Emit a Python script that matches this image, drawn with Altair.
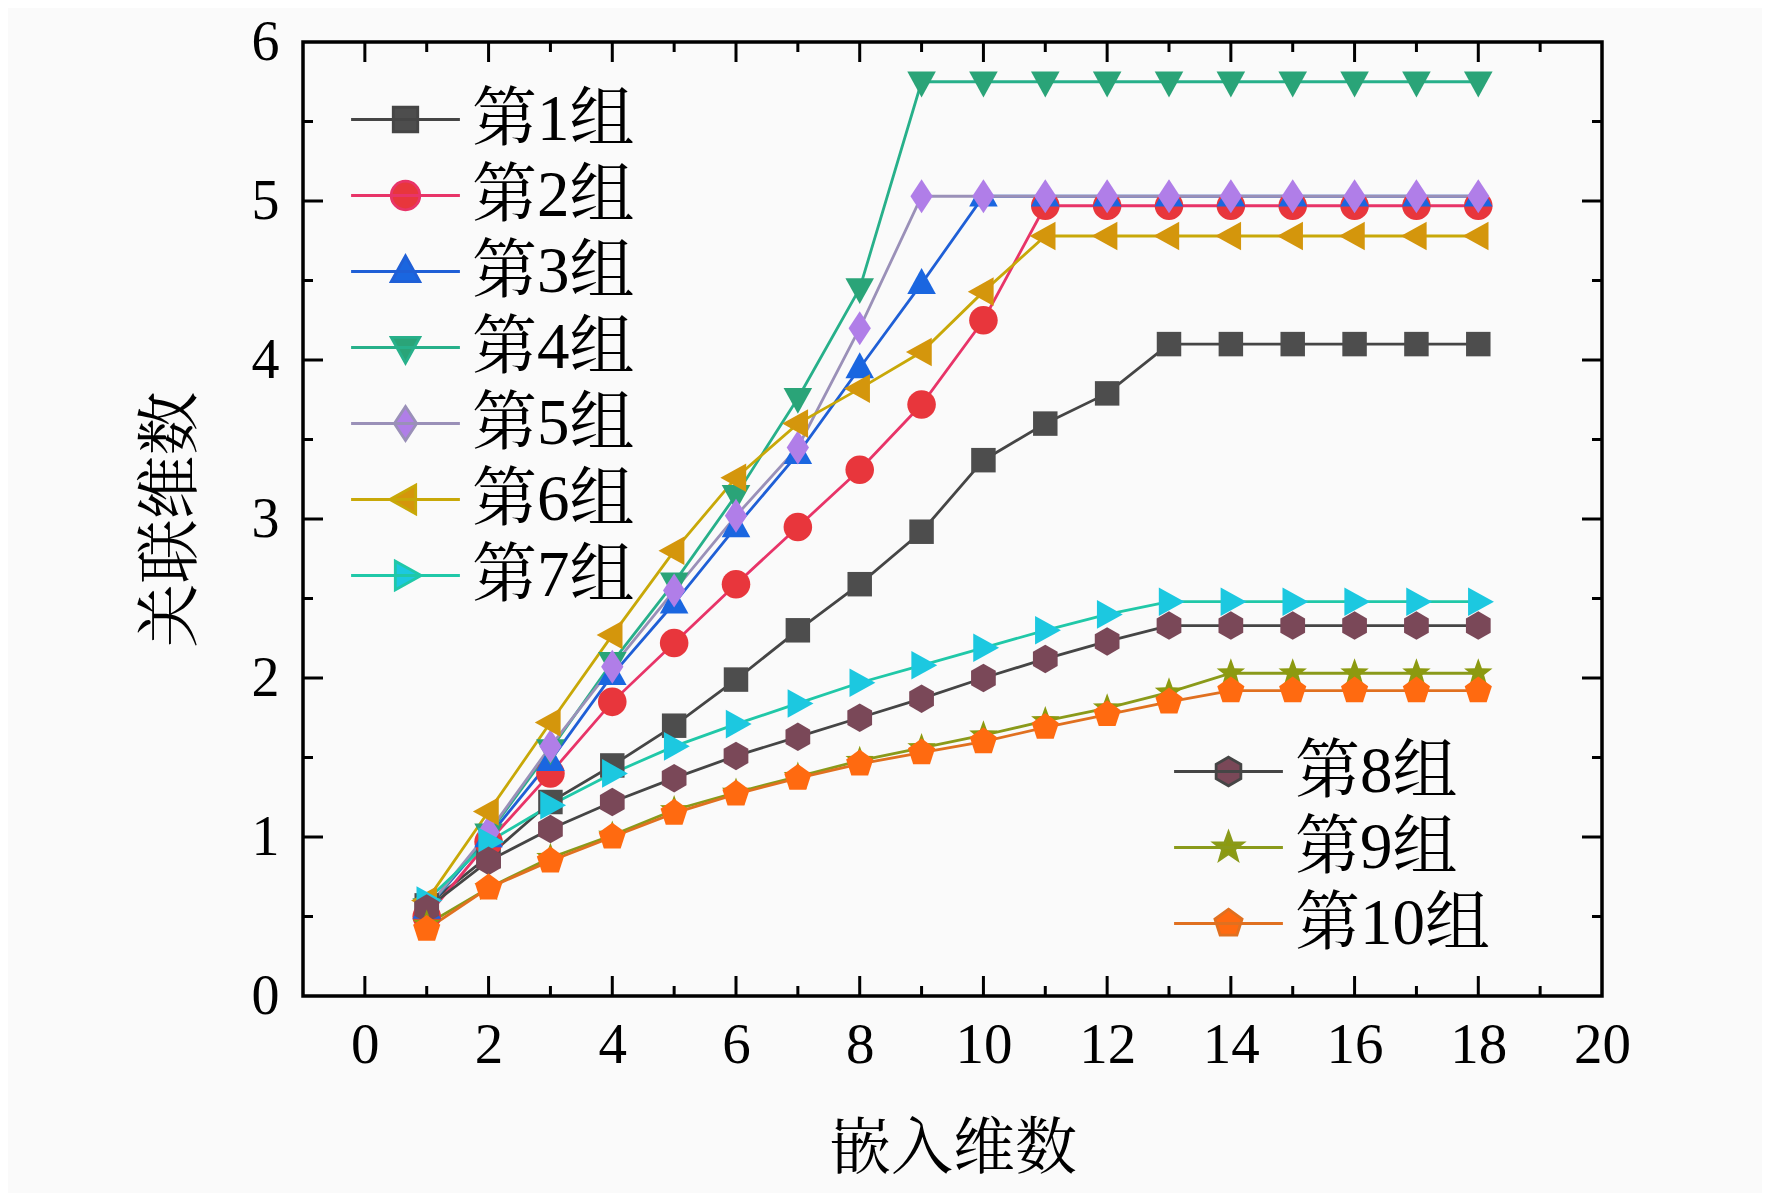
import altair as alt
import pandas as pd

x_vals = list(range(1, 19))
labels = ["第1组", "第2组", "第3组", "第4组", "第5组", "第6组", "第7组", "第8组", "第9组", "第10组"]

g1 = [0.57, 0.88, 1.22, 1.45, 1.70, 1.99, 2.30, 2.59, 2.92, 3.37, 3.60, 3.79, 4.10, 4.10, 4.10, 4.10, 4.10, 4.10]
g2 = [0.50, 0.97, 1.40, 1.85, 2.22, 2.59, 2.95, 3.31, 3.72, 4.25, 4.97, 4.97, 4.97, 4.97, 4.97, 4.97, 4.97, 4.97]
g3 = [0.55, 1.00, 1.48, 2.02, 2.47, 2.95, 3.41, 3.95, 4.48, 5.03, 5.03, 5.03, 5.03, 5.03, 5.03, 5.03, 5.03, 5.03]
g4 = [0.55, 1.02, 1.55, 2.10, 2.60, 3.15, 3.76, 4.45, 5.75, 5.75, 5.75, 5.75, 5.75, 5.75, 5.75, 5.75, 5.75, 5.75]
g5 = [0.55, 1.03, 1.57, 2.07, 2.55, 3.02, 3.45, 4.20, 5.03, 5.03, 5.03, 5.03, 5.03, 5.03, 5.03, 5.03, 5.03, 5.03]
g6 = [0.60, 1.16, 1.72, 2.27, 2.80, 3.26, 3.60, 3.82, 4.05, 4.43, 4.78, 4.78, 4.78, 4.78, 4.78, 4.78, 4.78, 4.78]
g7 = [0.60, 0.97, 1.20, 1.40, 1.57, 1.71, 1.84, 1.97, 2.08, 2.19, 2.30, 2.40, 2.48, 2.48, 2.48, 2.48, 2.48, 2.48]
g8 = [0.55, 0.85, 1.05, 1.22, 1.37, 1.51, 1.63, 1.75, 1.87, 2.00, 2.12, 2.23, 2.33, 2.33, 2.33, 2.33, 2.33, 2.33]
g9 = [0.45, 0.68, 0.87, 1.01, 1.17, 1.28, 1.38, 1.48, 1.56, 1.64, 1.73, 1.81, 1.91, 2.03, 2.03, 2.03, 2.03, 2.03]
g10 = [0.42, 0.68, 0.85, 1.00, 1.15, 1.27, 1.37, 1.46, 1.53, 1.60, 1.69, 1.77, 1.85, 1.92, 1.92, 1.92, 1.92, 1.92]
series = [g1, g2, g3, g4, g5, g6, g7, g8, g9, g10]

x_major = [0, 2, 4, 6, 8, 10, 12, 14, 16, 18]
x_minor = [1, 3, 5, 7, 9, 11, 13, 15, 17, 19]
y_major = [1, 2, 3, 4, 5]
y_minor = [0.5, 1.5, 2.5, 3.5, 4.5, 5.5]
x_labels = [0, 2, 4, 6, 8, 10, 12, 14, 16, 18, 20]
y_labels = [0, 1, 2, 3, 4, 5, 6]

marker_colors = ["#4d4d4d", "#e8363c", "#1a66e0", "#2aa478", "#b07ee8",
                 "#d4960c", "#1cc8e0", "#7a4858", "#8c9a10", "#ff6a10"]
line_colors = ["#454545", "#e83468", "#1f5fd6", "#27b08a", "#9a90b8",
               "#c8a808", "#20c8a8", "#454545", "#8a9a1a", "#e07020"]

shapes = [
    "M-0.9,-0.9H0.9V0.9H-0.9Z",
    "M1.05,0A1.05,1.05,0,1,1,-1.05,0A1.05,1.05,0,1,1,1.05,0Z",
    "M0,-1.15L1.05,0.75L-1.05,0.75Z",
    "M0,1.15L1.05,-0.75L-1.05,-0.75Z",
    "M0,-1.25L0.82,0L0,1.25L-0.82,0Z",
    "M-1.15,0L0.75,-1.05L0.75,1.05Z",
    "M1.15,0L-0.75,-1.05L-0.75,1.05Z",
    "M0,-1.05L0.909,-0.525L0.909,0.525L0,1.05L-0.909,0.525L-0.909,-0.525Z",
    "M0,-1.1L0.265,-0.364L1.046,-0.34L0.428,0.139L0.647,0.89L0,0.45L-0.647,0.89L-0.428,0.139L-1.046,-0.34L-0.265,-0.364Z",
    "M0,-1.05L0.999,-0.324L0.617,0.849L-0.617,0.849L-0.999,-0.324Z",
]
legend_line = "M-4.0,0H4.0"
legend_shapes = [legend_line + s for s in shapes]

rows = []
for lab, vals in zip(labels, series):
    for xv, yv in zip(x_vals, vals):
        rows.append({"x": xv, "y": yv, "group": lab})
df = pd.DataFrame(rows)

FONT = "Liberation Serif, Times New Roman, Noto Serif CJK SC, Noto Sans CJK SC, serif"
W, H = 1299, 954
MSIZE = 740

xscale = alt.Scale(domain=[-1, 20], nice=False, zero=False)
yscale = alt.Scale(domain=[0, 6], nice=False, zero=False)

xaxis = alt.Axis(values=x_labels, title="嵌入维数", ticks=False, domain=False, grid=False,
                 labelFont=FONT, labelFontSize=57, labelPadding=21, labelColor="black",
                 titleFont=FONT, titleFontSize=62, titleFontWeight="normal", titleColor="black",
                 titlePadding=46, labelFlush=False, labelOverlap=False)
yaxis = alt.Axis(values=y_labels, title="关联维数", ticks=False, domain=False, grid=False,
                 labelFont=FONT, labelFontSize=56, labelPadding=24, labelColor="black",
                 titleFont=FONT, titleFontSize=64, titleFontWeight="normal", titleColor="black",
                 titlePadding=48, labelFlush=False, labelOverlap=False)

base = alt.Chart(df)

X = alt.X("x:Q", scale=xscale, axis=xaxis, title="嵌入维数")
Y = alt.Y("y:Q", scale=yscale, axis=yaxis, title="关联维数")

lines = base.mark_line(strokeWidth=2.8).encode(
    x=X,
    y=Y,
    stroke=alt.Stroke("group:N", scale=alt.Scale(domain=labels, range=line_colors), legend=None),
    detail="group:N",
)

points = base.mark_point(filled=True, opacity=1, size=MSIZE, strokeWidth=0).encode(
    x=X,
    y=Y,
    fill=alt.Fill("group:N", scale=alt.Scale(domain=labels, range=marker_colors), legend=None),
    shape=alt.Shape("group:N", scale=alt.Scale(domain=labels, range=shapes), legend=None),
)


def legend_layer(idx, lx, ly):
    dom = [labels[i] for i in idx]
    leg = alt.Legend(title=None, orient="none", legendX=lx, legendY=ly, padding=0,
                     symbolSize=MSIZE, symbolStrokeWidth=2.8, labelFont=FONT,
                     labelFontSize=65, labelOffset=34, rowPadding=10, labelColor="black",
                     labelLimit=400)
    return base.transform_filter("datum.x < -100").mark_point(
        filled=True, opacity=1, size=MSIZE, strokeWidth=2.8
    ).encode(
        x=X,
        y=Y,
        fill=alt.Fill("group:N", scale=alt.Scale(domain=dom, range=[marker_colors[i] for i in idx]), legend=leg),
        stroke=alt.Stroke("group:N", scale=alt.Scale(domain=dom, range=[line_colors[i] for i in idx]), legend=leg),
        shape=alt.Shape("group:N", scale=alt.Scale(domain=dom, range=[legend_shapes[i] for i in idx]), legend=leg),
    )


legA = legend_layer(list(range(7)), 70, 45)
legB = legend_layer([7, 8, 9], 893, 697)


def xticks(vals, length):
    d = pd.DataFrame({"x": vals})
    bottom = alt.Chart(d).mark_rule(color="black", strokeWidth=3).encode(
        x=X, y=alt.value(H), y2=alt.value(H - length))
    top = alt.Chart(d).mark_rule(color="black", strokeWidth=3).encode(
        x=X, y=alt.value(0), y2=alt.value(length))
    return [bottom, top]


def yticks(vals, length):
    d = pd.DataFrame({"y": vals})
    left = alt.Chart(d).mark_rule(color="black", strokeWidth=3).encode(
        y=Y, x=alt.value(0), x2=alt.value(length))
    right = alt.Chart(d).mark_rule(color="black", strokeWidth=3).encode(
        y=Y, x=alt.value(W), x2=alt.value(W - length))
    return [left, right]


tick_layers = xticks(x_major, 20) + xticks(x_minor, 10) + yticks(y_major, 20) + yticks(y_minor, 10)

chart = alt.layer(lines, points, legA, legB, *tick_layers).resolve_scale(
    fill="independent", stroke="independent", shape="independent"
).properties(
    width=W, height=H,
    autosize=alt.AutoSizeParams(type="none"),
    padding={"left": 295, "top": 34, "right": 160, "bottom": 197},
    background="#fafafa",
).configure_view(stroke="black", strokeWidth=3.5)

chart.save("out.html", embed_options={"renderer": "svg", "actions": False})
